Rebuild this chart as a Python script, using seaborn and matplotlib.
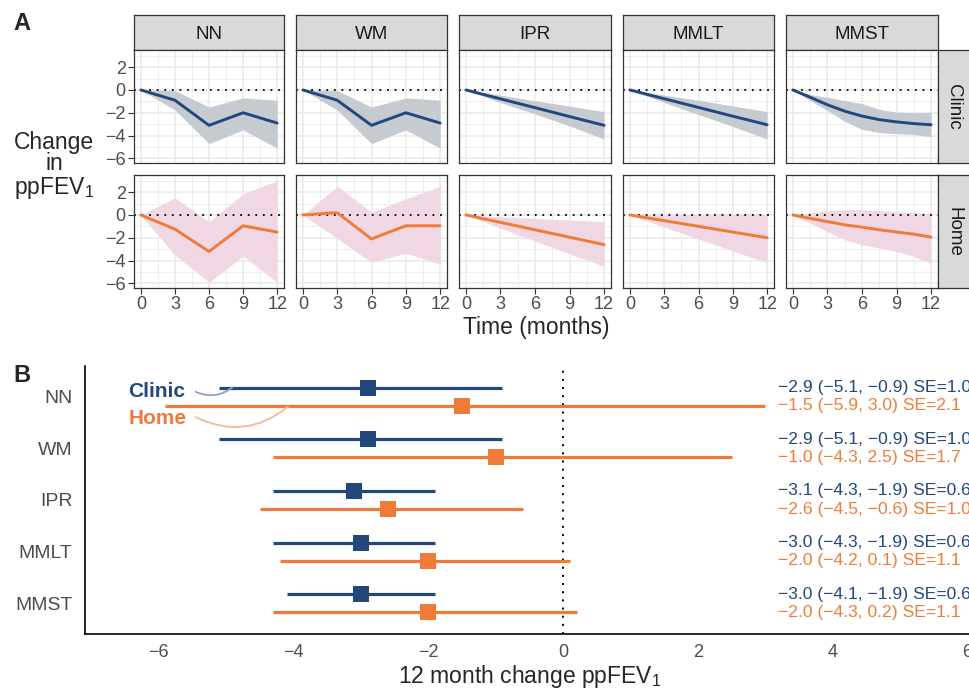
import numpy as np
import pandas as pd
import matplotlib
matplotlib.use("Agg")
import matplotlib.pyplot as plt
import seaborn as sns

# ---------------- data ----------------
methods = ["NN", "WM", "IPR", "MMLT", "MMST"]
settings = ["Clinic", "Home"]

months = [0, 3, 6, 9, 12]
months_fine = [0, 1.5, 3, 4.5, 6, 7.5, 9, 10.5, 12]

nn_clinic_est = [0, -0.9, -3.1, -2.0, -2.9]
nn_clinic_lo = [0, -1.75, -4.7, -3.5, -5.1]
nn_clinic_hi = [0, -0.05, -1.5, -0.7, -0.9]
nn_home_est = [0, -1.25, -3.2, -0.95, -1.5]
nn_home_lo = [0, -3.5, -5.9, -3.6, -5.9]
nn_home_hi = [0, 1.5, -0.6, 1.85, 3.0]

wm_clinic_est = [0, -0.9, -3.1, -2.0, -2.9]
wm_clinic_lo = [0, -1.75, -4.7, -3.5, -5.1]
wm_clinic_hi = [0, -0.05, -1.5, -0.7, -0.9]
wm_home_est = [0, 0.2, -2.1, -0.95, -0.95]
wm_home_lo = [0, -2.05, -4.15, -3.35, -4.3]
wm_home_hi = [0, 2.5, 0.25, 1.4, 2.5]

ipr_clinic_est = [0, -0.78, -1.55, -2.33, -3.1]
ipr_clinic_lo = [0, -1.1, -2.1, -3.15, -4.3]
ipr_clinic_hi = [0, -0.45, -0.95, -1.42, -1.9]
ipr_home_est = [0, -0.65, -1.3, -1.95, -2.6]
ipr_home_lo = [0, -1.15, -2.3, -3.4, -4.5]
ipr_home_hi = [0, -0.15, -0.3, -0.45, -0.6]

mmlt_clinic_est = [0, -0.77, -1.53, -2.3, -3.05]
mmlt_clinic_lo = [0, -1.1, -2.15, -3.2, -4.3]
mmlt_clinic_hi = [0, -0.45, -0.9, -1.4, -1.9]
mmlt_home_est = [0, -0.5, -1.0, -1.5, -2.0]
mmlt_home_lo = [0, -1.05, -2.1, -3.15, -4.2]
mmlt_home_hi = [0, 0.02, 0.05, 0.08, 0.1]

mmst_clinic_est = [0, -0.64, -1.3, -1.86, -2.29, -2.6, -2.8, -2.95, -3.05]
mmst_clinic_lo = [0, -0.93, -1.8, -2.75, -3.45, -3.74, -3.83, -3.9, -4.1]
mmst_clinic_hi = [0, -0.4, -0.64, -0.93, -1.2, -1.7, -1.94, -2.0, -1.95]
mmst_home_est = [0, -0.3, -0.58, -0.87, -1.07, -1.3, -1.5, -1.68, -1.95]
mmst_home_lo = [0, -0.72, -1.45, -2.17, -2.6, -2.9, -3.19, -3.62, -4.25]
mmst_home_hi = [0, 0.2, 0.38, 0.46, 0.46, 0.38, 0.29, 0.2, 0.15]

# panel B
clinic_est = [-2.9, -2.9, -3.1, -3.0, -3.0]
clinic_lo = [-5.1, -5.1, -4.3, -4.3, -4.1]
clinic_hi = [-0.9, -0.9, -1.9, -1.9, -1.9]
clinic_se = [1.0, 1.0, 0.6, 0.6, 0.6]
home_est = [-1.5, -1.0, -2.6, -2.0, -2.0]
home_lo = [-5.9, -4.3, -4.5, -4.2, -4.3]
home_hi = [3.0, 2.5, -0.6, 0.1, 0.2]
home_se = [2.1, 1.7, 1.0, 1.1, 1.1]

# ---------------- build long table ----------------
series = {
    ("NN", "Clinic"): (months, nn_clinic_est, nn_clinic_lo, nn_clinic_hi),
    ("NN", "Home"): (months, nn_home_est, nn_home_lo, nn_home_hi),
    ("WM", "Clinic"): (months, wm_clinic_est, wm_clinic_lo, wm_clinic_hi),
    ("WM", "Home"): (months, wm_home_est, wm_home_lo, wm_home_hi),
    ("IPR", "Clinic"): (months, ipr_clinic_est, ipr_clinic_lo, ipr_clinic_hi),
    ("IPR", "Home"): (months, ipr_home_est, ipr_home_lo, ipr_home_hi),
    ("MMLT", "Clinic"): (months, mmlt_clinic_est, mmlt_clinic_lo, mmlt_clinic_hi),
    ("MMLT", "Home"): (months, mmlt_home_est, mmlt_home_lo, mmlt_home_hi),
    ("MMST", "Clinic"): (months_fine, mmst_clinic_est, mmst_clinic_lo, mmst_clinic_hi),
    ("MMST", "Home"): (months_fine, mmst_home_est, mmst_home_lo, mmst_home_hi),
}
rows = []
for (m, s), (t, e, lo, hi) in series.items():
    for ti, ei, li, hi_ in zip(t, e, lo, hi):
        rows.append(dict(method=m, setting=s, month=ti, est=ei, lo=li, hi=hi_))
df = pd.DataFrame(rows)

# ---------------- style ----------------
sns.set_style("white")
plt.rcParams["font.family"] = ["Liberation Sans", "DejaVu Sans"]
plt.rcParams["mathtext.fontset"] = "custom"
plt.rcParams["mathtext.rm"] = "Liberation Sans"
plt.rcParams["mathtext.it"] = "Liberation Sans"
plt.rcParams["mathtext.bf"] = "Liberation Sans:bold"
plt.rcParams["mathtext.default"] = "regular"

NAVY = "#22477C"
ORANGE = "#F07B38"
BAND = {"Clinic": "#C5CBD0", "Home": "#EFD7E3"}
LINE = {"Clinic": NAVY, "Home": ORANGE}
TICKC = "#4D4D4D"
EDGE = "#333333"
GRID = "#EBEBEB"

W, H = 969, 689
fig = plt.figure(figsize=(W / 100, H / 100), dpi=100)


def add_ax(x0, y0, x1, y1, **kw):
    return fig.add_axes([x0 / W, 1 - y1 / H, (x1 - x0) / W, (y1 - y0) / H], **kw)


cols_px = [(134, 284), (296, 447), (459, 611), (623, 774), (786, 938)]
rows_px = [(50, 163), (175, 288)]
ylim_a = (-6.4, 3.5)
xlim_a = (-0.6, 12.6)

for ci, m in enumerate(methods):
    x0, x1 = cols_px[ci]
    # top strip
    sax = add_ax(x0, 15, x1, 50)
    sax.set_facecolor("#D9D9D9")
    sax.set_xticks([]); sax.set_yticks([])
    for sp in sax.spines.values():
        sp.set_color(EDGE); sp.set_linewidth(0.9)
    sax.text(0.5, 0.45, m, ha="center", va="center", fontsize=13.5,
             color="#1A1A1A", transform=sax.transAxes)
    for ri, s in enumerate(settings):
        y0, y1 = rows_px[ri]
        ax = add_ax(x0, y0, x1, y1)
        sub = df[(df.method == m) & (df.setting == s)]
        ax.fill_between(sub.month, sub.lo, sub.hi, color=BAND[s], lw=0, zorder=1)
        sns.lineplot(data=sub, x="month", y="est", ax=ax, color=LINE[s],
                     lw=2.1, estimator=None, sort=True, zorder=3)
        ax.axhline(0, color="black", lw=1.3, ls=(0, (1, 3.2)), zorder=2)
        ax.set_xlim(*xlim_a); ax.set_ylim(*ylim_a)
        ax.set_xticks([0, 3, 6, 9, 12])
        ax.set_xticks([1.5, 4.5, 7.5, 10.5], minor=True)
        ax.set_yticks([-6, -4, -2, 0, 2])
        ax.set_yticks([-5, -3, -1, 1, 3], minor=True)
        ax.grid(which="major", color=GRID, lw=1.2, zorder=0)
        ax.grid(which="minor", color=GRID, lw=0.6, zorder=0)
        ax.set_axisbelow(True)
        ax.set_xlabel(""); ax.set_ylabel("")
        for sp in ax.spines.values():
            sp.set_color(EDGE); sp.set_linewidth(0.9)
        ax.tick_params(which="minor", length=0)
        ax.tick_params(which="major", length=4, width=0.8, color=EDGE,
                       labelsize=13, labelcolor=TICKC, pad=2)
        if ci != 0:
            ax.tick_params(left=False, labelleft=False)
        else:
            ax.tick_params(left=True, labelleft=True)
        if ri == 0:
            ax.tick_params(bottom=False, labelbottom=False)
        else:
            ax.tick_params(bottom=True, labelbottom=True)
            ax.set_xticklabels(["0", "3", "6", "9", "12"])
        if ci == len(methods) - 1:
            rax = add_ax(938, y0, 972, y1)
            rax.set_facecolor("#D9D9D9")
            rax.set_xticks([]); rax.set_yticks([])
            for sp in rax.spines.values():
                sp.set_color(EDGE); sp.set_linewidth(0.9)
            rax.text(0.47, 0.5, s, ha="center", va="center", rotation=270,
                     fontsize=13.5, color="#1A1A1A", transform=rax.transAxes)

# panel A labels
fig.text(22 / W, 1 - 24 / H, "A", fontsize=17, fontweight="bold", ha="center", va="center")
fig.text(536 / W, 1 - 327 / H, "Time (months)", fontsize=16.5, ha="center", va="center")
fig.text(54 / W, 1 - 142 / H, "Change", fontsize=16.5, ha="center", va="center")
fig.text(54 / W, 1 - 164 / H, "in", fontsize=16.5, ha="center", va="center")
fig.text(54 / W, 1 - 188 / H, "ppFEV$_1$", fontsize=16.5, ha="center", va="center")

# ---------------- panel B ----------------
axb = add_ax(85, 366, 975, 634)
pos = np.arange(1, len(methods) + 1)
off = 0.175
dfb = pd.DataFrame(dict(method=methods, pos=pos,
                        c_est=clinic_est, c_lo=clinic_lo, c_hi=clinic_hi, c_se=clinic_se,
                        h_est=home_est, h_lo=home_lo, h_hi=home_hi, h_se=home_se))
axb.axvline(0, color="black", lw=1.4, ls=(0, (1, 3.2)), zorder=1)
axb.hlines(dfb.pos - off, dfb.c_lo, dfb.c_hi, color=NAVY, lw=2.3, zorder=2)
axb.hlines(dfb.pos + off, dfb.h_lo, dfb.h_hi, color=ORANGE, lw=2.3, zorder=2)
sns.scatterplot(x=dfb.c_est, y=dfb.pos - off, ax=axb, marker="s", s=125,
                color=NAVY, linewidth=0, zorder=3)
sns.scatterplot(x=dfb.h_est, y=dfb.pos + off, ax=axb, marker="s", s=125,
                color=ORANGE, linewidth=0, zorder=3)


def fmt(e, lo, hi, se):
    return f"{e:.1f} ({lo:.1f}, {hi:.1f}) SE={se:.1f}".replace("-", "\u2212")


for _, r in dfb.iterrows():
    axb.text(3.19, r.pos - off, fmt(r.c_est, r.c_lo, r.c_hi, r.c_se), color=NAVY,
             fontsize=12.6, ha="left", va="center")
    axb.text(3.19, r.pos + off, fmt(r.h_est, r.h_lo, r.h_hi, r.h_se), color=ORANGE,
             fontsize=12.6, ha="left", va="center")

# legend-like labels with curves
axb.text(-6.45, 0.9, "Clinic", color=NAVY, fontsize=15, fontweight="bold",
         ha="left", va="center")
axb.text(-6.45, 1.41, "Home", color=ORANGE, fontsize=15, fontweight="bold",
         ha="left", va="center")
axb.annotate("", xy=(-4.9, 0.81), xytext=(-5.45, 0.9),
             arrowprops=dict(arrowstyle="-", color="#8EA1C0", lw=1.3,
                             connectionstyle="arc3,rad=0.3", shrinkA=0, shrinkB=0))
axb.annotate("", xy=(-4.08, 1.19), xytext=(-5.45, 1.39),
             arrowprops=dict(arrowstyle="-", color="#F7B894", lw=1.3,
                             connectionstyle="arc3,rad=0.32", shrinkA=0, shrinkB=0))

axb.set_xlim(-7.09, 6.11)
axb.set_ylim(5.6, 0.4)
axb.set_yticks(pos)
axb.set_yticklabels(methods)
axb.set_xticks([-6, -4, -2, 0, 2, 4, 6])
axb.set_xticklabels(["\u22126", "\u22124", "\u22122", "0", "2", "4", "6"])
axb.set_xlabel(""); axb.set_ylabel("")
axb.grid(False)
for k in ["top", "right"]:
    axb.spines[k].set_visible(False)
for k in ["left", "bottom"]:
    axb.spines[k].set_color("black"); axb.spines[k].set_linewidth(1.2)
axb.tick_params(axis="y", length=0, labelsize=14, labelcolor=TICKC, pad=9)
axb.tick_params(axis="x", length=4, width=0.8, color=EDGE, labelsize=13,
                labelcolor=TICKC, pad=3)
axb.set_facecolor("none")

fig.text(22 / W, 1 - 376 / H, "B", fontsize=17, fontweight="bold", ha="center", va="center")
fig.text(530 / W, 1 - 676 / H, "12 month change ppFEV$_1$", fontsize=16.5,
         ha="center", va="center")

fig.savefig("out.png", dpi=100)
